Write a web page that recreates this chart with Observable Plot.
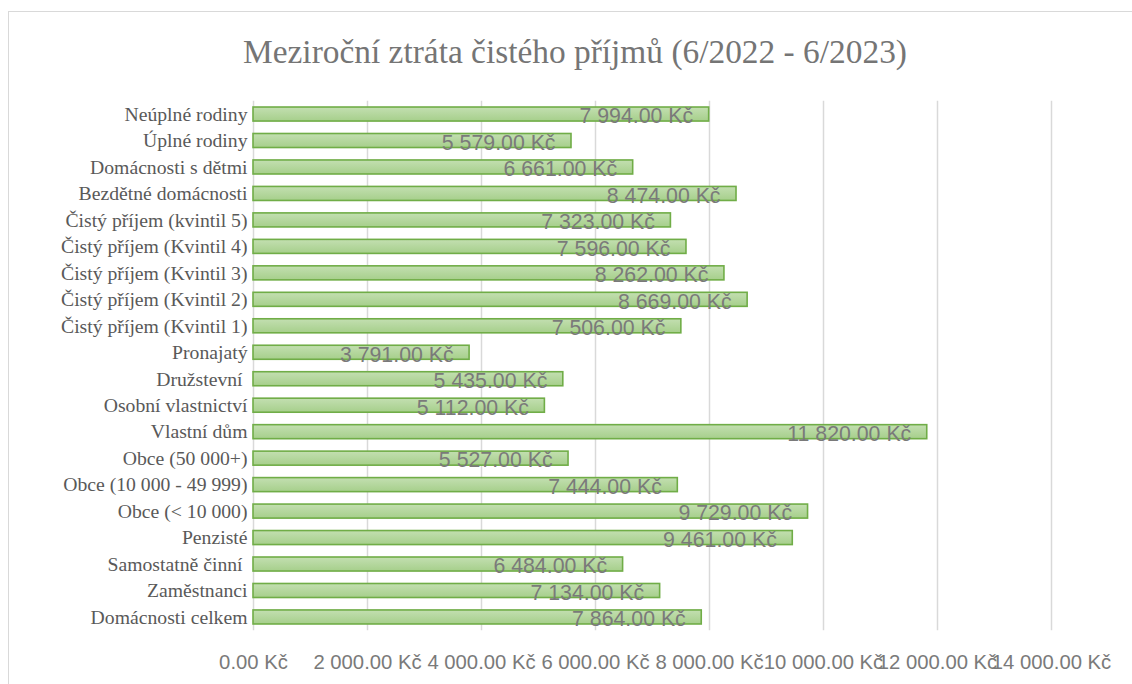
<!DOCTYPE html>
<html>
<head>
<meta charset="utf-8">
<script src="https://cdn.jsdelivr.net/npm/d3@7"></script>
<script src="https://cdn.jsdelivr.net/npm/@observablehq/plot@0.6"></script>
<style>
  html, body { margin: 0; padding: 0; background: #fff; overflow: hidden; }
  #frame { position: absolute; left: 8px; top: 11px; width: 1300px; height: 900px; border: 1.5px solid #d9d9d9; box-sizing: border-box; }
  #wrap { position: relative; width: 1132px; height: 684px; }
  #title { position: relative; height: 86px; box-sizing: border-box; padding-top: 32px; text-align: center; padding-left: 18px;
           font-family: "Liberation Serif", "Times New Roman", serif; font-size: 33.4px; line-height: 40px; color: #757575; }
  #chart { position: relative; }
</style>
</head>
<body>
<div id="frame"></div>
<div id="wrap">
  <div id="title">Meziroční ztráta čistého příjmů (6/2022 - 6/2023)</div>
  <div id="chart"></div>
</div>
<script>
const categories = [
  "Neúplné rodiny",
  "Úplné rodiny",
  "Domácnosti s dětmi",
  "Bezdětné domácnosti",
  "Čistý příjem (kvintil 5)",
  "Čistý příjem (Kvintil 4)",
  "Čistý příjem (Kvintil 3)",
  "Čistý příjem (Kvintil 2)",
  "Čistý příjem (Kvintil 1)",
  "Pronajatý",
  "Družstevní ",
  "Osobní vlastnictví",
  "Vlastní dům",
  "Obce (50 000+)",
  "Obce (10 000 - 49 999)",
  "Obce (< 10 000)",
  "Penzisté",
  "Samostatně činní ",
  "Zaměstnanci",
  "Domácnosti celkem"
];
const values = [7994, 5579, 6661, 8474, 7323, 7596, 8262, 8669, 7506, 3791, 5435, 5112, 11820, 5527, 7444, 9729, 9461, 6484, 7134, 7864];
const xTicks = [0, 2000, 4000, 6000, 8000, 10000, 12000, 14000];

const fmt = v => d3.format(",.2f")(v).replace(/,/g, "\u00a0") + "\u00a0Kč";
const data = categories.map((c, i) => ({ category: c, value: values[i] }));

const gradient = () => {
  const svg = d3.create("svg:g");
  const g = svg.append("defs").append("linearGradient")
    .attr("id", "barGrad").attr("x1", 0).attr("y1", 0).attr("x2", 0).attr("y2", 1);
  g.append("stop").attr("offset", "0%").attr("stop-color", "#c3dfb1");
  g.append("stop").attr("offset", "100%").attr("stop-color", "#a6cf8b");
  return svg.node();
};

const chart = Plot.plot({
  width: 1132,
  height: 598,
  marginLeft: 253,
  marginRight: 81,
  marginTop: 14.8,
  marginBottom: 53.8,
  x: { domain: [0, 14000], ticks: xTicks, tickFormat: fmt },
  y: { domain: categories, paddingInner: 0.47, paddingOuter: 0.235, align: 0.5, round: false },
  style: { background: "transparent", overflow: "visible" },
  marks: [
    gradient,
    Plot.gridX(xTicks, { stroke: "#d9d9d9", strokeOpacity: 1, strokeWidth: 1.5 }),
    Plot.barX(data, { x: "value", y: "category", fill: "url(#barGrad)", stroke: "#70ad47", strokeWidth: 1.6 }),
    Plot.text(data, { x: "value", y: "category", text: d => fmt(d.value), textAnchor: "end", dx: -16, dy: 2,
      fill: "#7a7a7a", fontSize: 21.3, fontFamily: "Liberation Sans, Arial, sans-serif" }),
    Plot.axisY({ tickSize: 0, tickPadding: 6, fontSize: 19.7, fontFamily: "Liberation Serif, Times New Roman, serif", fill: "#595959", label: null }),
    Plot.axisX(xTicks, { tickSize: 0, tickPadding: 24, fontSize: 20.3, fontFamily: "Liberation Sans, Arial, sans-serif", fill: "#7a7a7a", label: null, tickFormat: fmt })
  ]
});
document.getElementById("chart").appendChild(chart);
</script>
</body>
</html>
